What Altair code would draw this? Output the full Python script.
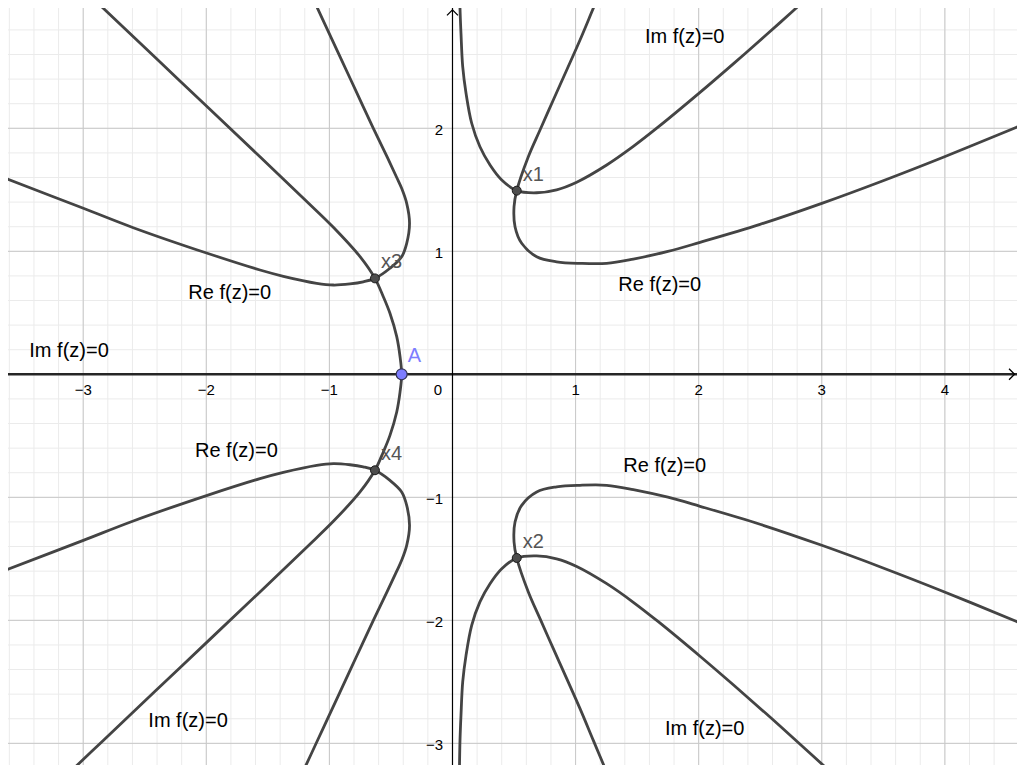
import altair as alt
import pandas as pd

# Visible window of the complex plane (graph units)
X_MIN, X_MAX = -3.611, 4.586
Y_MIN, Y_MAX = -3.176, 2.978

FONT = "Liberation Sans"
CURVE_COLOR = "#444444"

# ---------------------------------------------------------------------------
# Traced branches of the zero sets Re f(z)=0 and Im f(z)=0
# ---------------------------------------------------------------------------
# Im f(z)=0 through x1: comes down from the top, passes x1, leaves to the upper right
im_x1_x = [0.056, 0.061, 0.069, 0.083, 0.110, 0.156, 0.223, 0.305, 0.400, 0.522,
           0.684, 0.846, 1.009, 1.253, 1.469, 1.672, 2.011, 2.281, 2.552, 2.768, 3.07]
im_x1_y = [3.25, 2.976, 2.772, 2.501, 2.285, 2.041, 1.850, 1.702, 1.580, 1.493,
           1.476, 1.500, 1.562, 1.702, 1.853, 2.011, 2.292, 2.524, 2.762, 2.956, 3.231]

# Re f(z)=0 through x1: steep ray from the top, through x1, bends round to the right
re_x1_x = [1.259, 1.144, 1.036, 0.928, 0.819, 0.711, 0.616, 0.522, 0.500, 0.508,
           0.562, 0.684, 0.846, 1.036, 1.253, 1.469, 1.750, 2.011, 2.498, 3.0,
           3.493, 3.987, 4.578, 4.70]
re_x1_y = [3.25, 2.976, 2.718, 2.474, 2.230, 1.986, 1.769, 1.493, 1.363, 1.200,
           1.065, 0.956, 0.915, 0.902, 0.902, 0.937, 0.999, 1.073, 1.219, 1.390,
           1.572, 1.765, 2.007, 2.058]

# Im f(z)=0 through x3 and down to the real axis at A
im_x3_x = [-3.125, -2.837, -2.214, -1.564, -1.184, -0.968, -0.751, -0.630, -0.562,
           -0.508, -0.453, -0.426, -0.413]
im_x3_y = [3.25, 2.976, 2.385, 1.769, 1.405, 1.195, 0.956, 0.780, 0.631,
           0.496, 0.306, 0.143, 0.0]

# Im f(z)=0 from A through x4 to the lower left
im_x4_x = [-0.413, -0.426, -0.453, -0.508, -0.562, -0.630, -0.751, -0.968, -1.184,
           -1.564, -2.214, -2.837, -3.125]
im_x4_y = [0.0, -0.143, -0.306, -0.496, -0.631, -0.780, -0.956, -1.195, -1.405,
           -1.769, -2.385, -2.976, -3.25]

# Re f(z)=0 through x3: from the left edge, through x3, loops up to the top
re_x3_x = [-3.717, -3.611, -2.999, -2.593, -1.992, -1.564, -1.374, -1.103, -0.968,
           -0.833, -0.725, -0.630, -0.508, -0.413, -0.372, -0.349, -0.372, -0.413,
           -0.453, -0.530, -0.643, -0.778, -0.914, -1.019, -1.097, -1.222]
re_x3_y = [1.627, 1.585, 1.350, 1.192, 0.984, 0.848, 0.797, 0.740, 0.726,
           0.735, 0.752, 0.780, 0.862, 0.956, 1.065, 1.228, 1.390, 1.512,
           1.600, 1.765, 2.0, 2.290, 2.583, 2.809, 2.977, 3.246]

# Re f(z)=0 through x4 (lower half plane)
re_x4_x = [-3.717, -3.611, -2.999, -2.593, -1.992, -1.564, -1.374, -1.103, -0.968,
           -0.833, -0.725, -0.630, -0.508, -0.413, -0.372, -0.349, -0.372, -0.413,
           -0.453, -0.530, -0.643, -0.778, -0.914, -1.019, -1.097, -1.222]
re_x4_y = [-1.627, -1.585, -1.350, -1.192, -0.984, -0.848, -0.797, -0.740, -0.726,
           -0.735, -0.752, -0.780, -0.862, -0.956, -1.065, -1.228, -1.390, -1.512,
           -1.600, -1.765, -2.0, -2.290, -2.583, -2.809, -2.977, -3.246]

# Im f(z)=0 through x2 (lower half plane)
im_x2_x = [0.056, 0.061, 0.069, 0.083, 0.110, 0.156, 0.223, 0.305, 0.400, 0.522,
           0.684, 0.846, 1.009, 1.253, 1.469, 1.672, 2.011, 2.281, 2.552, 2.768, 3.07]
im_x2_y = [-3.25, -2.976, -2.772, -2.501, -2.285, -2.041, -1.850, -1.702, -1.580, -1.493,
           -1.476, -1.500, -1.562, -1.702, -1.853, -2.011, -2.292, -2.524, -2.762, -2.956, -3.231]

# Re f(z)=0 through x2 (lower half plane)
re_x2_x = [1.259, 1.144, 1.036, 0.928, 0.819, 0.711, 0.616, 0.522, 0.500, 0.508,
           0.562, 0.684, 0.846, 1.036, 1.253, 1.469, 1.750, 2.011, 2.498, 3.0,
           3.493, 3.987, 4.578, 4.70]
re_x2_y = [-3.25, -2.976, -2.718, -2.474, -2.230, -1.986, -1.769, -1.493, -1.363, -1.200,
           -1.065, -0.956, -0.915, -0.902, -0.902, -0.937, -0.999, -1.073, -1.219, -1.390,
           -1.572, -1.765, -2.007, -2.058]

# Zeros of f and the critical point A on the real axis
root_names = ["x1", "x2", "x3", "x4"]
root_x = [0.522, 0.522, -0.630, -0.630]
root_y = [1.493, -1.493, 0.780, -0.780]
crit_name = ["A"]
crit_x = [-0.413]
crit_y = [0.0]

# Region captions
caption_text = ["Im f(z)=0", "Re f(z)=0", "Re f(z)=0", "Im f(z)=0",
                "Re f(z)=0", "Im f(z)=0", "Re f(z)=0", "Im f(z)=0"]
caption_x = [1.564, 1.347, -2.146, -3.438, -2.092, -2.471, 1.388, 1.726]
caption_y = [2.694, 0.680, 0.610, 0.143, -0.670, -2.865, -0.792, -2.933]

# Axis tick values and labels
x_ticks = [-3, -2, -1, 1, 2, 3, 4]
x_tick_labels = ["\u22123", "\u22122", "\u22121", "1", "2", "3", "4"]
y_ticks = [-3, -2, -1, 1, 2]
y_tick_labels = ["\u22123", "\u22122", "\u22121", "1", "2"]

# Grid positions: major every unit, minor every 0.2
major_x = list(range(-3, 5))
major_y = list(range(-3, 3))
minor_x = [round(k * 0.2, 1) for k in range(-18, 23)]
minor_y = [round(k * 0.2, 1) for k in range(-16, 15)]

# ---------------------------------------------------------------------------
xs = alt.Scale(domain=[X_MIN, X_MAX], nice=False, zero=False)
ys = alt.Scale(domain=[Y_MIN, Y_MAX], nice=False, zero=False)


def X(field):
    return alt.X(f"{field}:Q", scale=xs, axis=None)


def Y(field):
    return alt.Y(f"{field}:Q", scale=ys, axis=None)


def frame(name, xv, yv):
    return pd.DataFrame({"curve": name, "i": list(range(len(xv))), "x": xv, "y": yv})


curves = pd.concat([
    frame("im_x1", im_x1_x, im_x1_y),
    frame("re_x1", re_x1_x, re_x1_y),
    frame("im_x3_x4", im_x3_x + im_x4_x[1:], im_x3_y + im_x4_y[1:]),
    frame("re_x3", re_x3_x, re_x3_y),
    frame("re_x4", re_x4_x, re_x4_y),
    frame("im_x2", im_x2_x, im_x2_y),
    frame("re_x2", re_x2_x, re_x2_y),
], ignore_index=True)

roots = pd.DataFrame({"name": root_names, "x": root_x, "y": root_y})
crit = pd.DataFrame({"name": crit_name, "x": crit_x, "y": crit_y})
captions = pd.DataFrame({"text": caption_text, "x": caption_x, "y": caption_y})
xt = pd.DataFrame({"v": x_ticks, "label": x_tick_labels, "zero": 0.0})
yt = pd.DataFrame({"v": y_ticks, "label": y_tick_labels, "zero": 0.0})
origin = pd.DataFrame({"v": [0.0], "label": ["0"]})

minor_v = alt.Chart(pd.DataFrame({"v": minor_x})).mark_rule(
    color="#ebebeb", strokeWidth=1, clip=True).encode(x=X("v"))
minor_h = alt.Chart(pd.DataFrame({"v": minor_y})).mark_rule(
    color="#ebebeb", strokeWidth=1, clip=True).encode(y=Y("v"))
major_v = alt.Chart(pd.DataFrame({"v": major_x})).mark_rule(
    color="#c8c8c8", strokeWidth=1, clip=True).encode(x=X("v"))
major_h = alt.Chart(pd.DataFrame({"v": major_y})).mark_rule(
    color="#c8c8c8", strokeWidth=1, clip=True).encode(y=Y("v"))

axes0 = pd.DataFrame({"v": [0.0]})
# real axis (also part of Im f(z)=0) and imaginary axis
x_axis = alt.Chart(axes0).mark_rule(color="#262626", strokeWidth=2.4).encode(y=Y("v"))
y_axis = alt.Chart(axes0).mark_rule(color="#000000", strokeWidth=1.2).encode(x=X("v"))

arrow_x = alt.Chart(pd.DataFrame({"x": [X_MAX - 0.02], "y": [0.0]})).mark_point(
    shape="M -1 -1 L 0 0 L -1 1", filled=False, size=121, color="black",
    strokeWidth=1.3, opacity=1).encode(x=X("x"), y=Y("y"))
arrow_y = alt.Chart(pd.DataFrame({"x": [0.0], "y": [Y_MAX - 0.015]})).mark_point(
    shape="M -1 1 L 0 0 L 1 1", filled=False, size=121, color="black",
    strokeWidth=1.3, opacity=1).encode(x=X("x"), y=Y("y"))

x_labels = alt.Chart(xt).mark_text(
    font=FONT, fontSize=15, color="#000000", align="center", baseline="alphabetic", dy=21
).encode(x=X("v"), y=Y("zero"), text="label:N")
y_labels = alt.Chart(yt).mark_text(
    font=FONT, fontSize=15, color="#000000", align="right", baseline="alphabetic", dx=-9.5, dy=6.5
).encode(x=X("zero"), y=Y("v"), text="label:N")
o_label = alt.Chart(origin).mark_text(
    font=FONT, fontSize=15, color="#000000", align="center", baseline="alphabetic", dx=-14.5, dy=21
).encode(x=X("v"), y=Y("v"), text="label:N")

lines = alt.Chart(curves).mark_line(
    color=CURVE_COLOR, strokeWidth=2.8, interpolate="catmull-rom", clip=True
).encode(x=X("x"), y=Y("y"), detail="curve:N", order="i:Q")

root_pts = alt.Chart(roots).mark_point(
    filled=True, size=80, color="#4d4d4d", stroke="#1a1a1a", strokeWidth=1, opacity=1
).encode(x=X("x"), y=Y("y"))
root_lbl = alt.Chart(roots).mark_text(
    font=FONT, fontSize=20, color="#555555", align="left", baseline="alphabetic", dx=6, dy=-10
).encode(x=X("x"), y=Y("y"), text="name:N")

crit_pt = alt.Chart(crit).mark_point(
    filled=True, size=120, color="#7d7dff", stroke="#333355", strokeWidth=1.2, opacity=1
).encode(x=X("x"), y=Y("y"))
crit_lbl = alt.Chart(crit).mark_text(
    font=FONT, fontSize=20, color="#7d7dff", align="left", baseline="alphabetic", dx=6, dy=-12
).encode(x=X("x"), y=Y("y"), text="name:N")

cap = alt.Chart(captions).mark_text(
    font=FONT, fontSize=20, color="#000000", align="left", baseline="alphabetic"
).encode(x=X("x"), y=Y("y"), text="text:N")

chart = alt.layer(
    minor_v, minor_h, major_v, major_h,
    x_axis, y_axis, arrow_x, arrow_y,
    x_labels, y_labels, o_label,
    lines, root_pts, crit_pt, root_lbl, crit_lbl, cap,
).properties(
    width=1009, height=757,
    padding={"left": 8, "top": 8, "right": 0, "bottom": 0},
    autosize="none",
    background="white",
).configure_view(stroke=None)

chart.save("out.html", embed_options={"renderer": "svg", "actions": False})
